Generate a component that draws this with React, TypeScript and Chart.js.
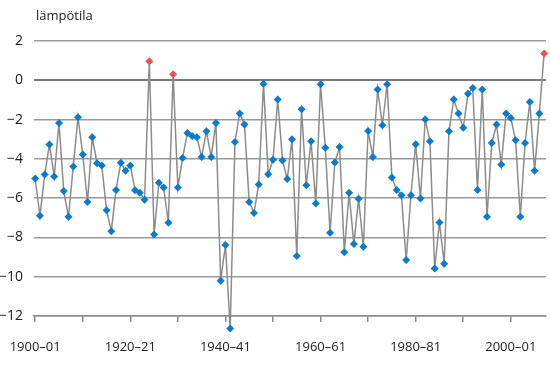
import React, { useEffect, useRef } from 'react';
import { Chart, registerables } from 'chart.js';

Chart.register(...registerables);

const yAxisTitle = 'lämpötila';
const firstSeason = 1900;
const tickYears = [0, 10, 20, 30, 40, 50, 60, 70, 80, 90, 100];
const tickLabels: Record<number, string> = {
  0: '1900–01',
  20: '1920–21',
  40: '1940–41',
  60: '1960–61',
  80: '1980–81',
  100: '2000–01',
};
const yTicks = [-12, -10, -8, -6, -4, -2, 0, 2];
const temperatures = [
  -5.0, -6.9, -4.8, -3.27, -4.9, -2.17, -5.64, -6.95, -4.39, -1.88,
  -3.78, -6.19, -2.9, -4.22, -4.34, -6.61, -7.68, -5.58, -4.2, -4.6,
  -4.34, -5.6, -5.73, -6.08, 0.97, -7.85, -5.22, -5.46, -7.25, 0.31,
  -5.46, -3.95, -2.68, -2.83, -2.9, -3.9, -2.6, -3.9, -2.17, -10.2,
  -8.39, -12.63, -3.14, -1.69, -2.25, -6.19, -6.75, -5.3, -0.17, -4.78,
  -4.05, -0.98, -4.08, -5.03, -3.0, -8.95, -1.47, -5.34, -3.1, -6.27,
  -0.2, -3.44, -7.76, -4.19, -3.39, -8.75, -5.73, -8.34, -6.03, -8.47,
  -2.58, -3.9, -0.47, -2.29, -0.2, -4.95, -5.59, -5.85, -9.15, -5.85,
  -3.25, -6.02, -2.0, -3.1, -9.58, -7.24, -9.34, -2.59, -0.98, -1.69,
  -2.42, -0.69, -0.39, -5.59, -0.47, -6.95, -3.19, -2.25, -4.29, -1.69,
  -1.92, -3.05, -6.95, -3.19, -1.1, -4.61, -1.69, 1.36,
];

const BLUE = '#0a7bcc';
const RED = '#f05252';
const FONT = "'Open Sans', sans-serif";

const titlePlugin = {
  id: 'axisTitleText',
  afterDatasetsDraw(chart: any) {
    // draw points that fall just outside the chart area (library skips them)
    const { ctx, chartArea } = chart;
    const full = { left: 0, top: 0, right: chart.width, bottom: chart.height };
    chart.getSortedVisibleDatasetMetas().forEach((meta: any) => {
      meta.data.forEach((el: any) => {
        if (el.y > chartArea.bottom + 0.5 || el.y < chartArea.top - 0.5) {
          el.draw(ctx, full);
        }
      });
    });
  },
  afterDraw(chart: any) {
    const { ctx, chartArea } = chart;
    ctx.save();
    ctx.font = `13px ${FONT}`;
    ctx.fillStyle = '#222';
    ctx.textAlign = 'left';
    ctx.textBaseline = 'middle';
    ctx.fillText(yAxisTitle, chartArea.left + 2, 16);
    ctx.restore();
  },
};

export default function App() {
  const canvasRef = useRef<HTMLCanvasElement | null>(null);

  useEffect(() => {
    if (!canvasRef.current) return;
    const points = temperatures.map((v, i) => ({ x: i, y: v }));
    const chart = new Chart(canvasRef.current, {
      type: 'line',
      data: {
        datasets: [
          {
            label: `${firstSeason}`,
            data: points,
            borderColor: '#8c8c8c',
            borderWidth: 1.5,
            pointStyle: 'rectRot',
            pointRadius: 4,
            pointBorderWidth: 0,
            pointBackgroundColor: (ctx: any) => (ctx.raw && ctx.raw.y > 0 ? RED : BLUE),
            pointBorderColor: (ctx: any) => (ctx.raw && ctx.raw.y > 0 ? RED : BLUE),
            tension: 0,
            clip: false as any,
          },
        ],
      },
      options: {
        animation: false,
        responsive: true,
        maintainAspectRatio: false,
        layout: { padding: { top: 41, right: 2, bottom: 0, left: 0 } },
        plugins: {
          legend: { display: false },
          tooltip: { enabled: false },
          title: { display: false },
        },
        scales: {
          x: {
            type: 'linear',
            min: -0.25,
            max: 107.4,
            afterBuildTicks: (axis: any) => {
              axis.ticks = tickYears.map((v) => ({ value: v }));
            },
            afterFit: (axis: any) => {
              axis.height = 51;
              axis.paddingLeft = 0;
              axis.paddingRight = 0;
            },
            ticks: {
              autoSkip: false,
              maxRotation: 0,
              padding: 17,
              color: '#222',
              font: { family: FONT, size: 13 },
              callback: (v: any) => tickLabels[Number(v)] ?? '',
            },
            grid: {
              display: true,
              drawOnChartArea: false,
              drawTicks: true,
              tickLength: 6,
              color: '#8a8a8a',
              lineWidth: 1.5,
            },
            border: { display: true, color: '#8a8a8a', width: 1.5 },
          },
          y: {
            min: -12,
            max: 2,
            afterBuildTicks: (axis: any) => {
              axis.ticks = yTicks.map((v) => ({ value: v }));
            },
            afterFit: (axis: any) => {
              axis.width = 34;
              axis.paddingTop = 0;
              axis.paddingBottom = 0;
            },
            ticks: {
              padding: 11,
              color: '#222',
              font: { family: FONT, size: 14 },
              callback: (v: any) => String(v).replace('-', '−'),
            },
            grid: {
              drawTicks: false,
              color: (ctx: any) => (ctx.tick && ctx.tick.value === 0 ? '#7a7a7a' : '#999'),
              lineWidth: (ctx: any) => (ctx.tick && ctx.tick.value === 0 ? 2 : 1.5),
            },
            border: { display: false },
          },
        },
      },
      plugins: [titlePlugin],
    });
    return () => chart.destroy();
  }, []);

  return (
    <div style={{ position: 'fixed', left: 0, top: 0, width: 550, height: 367, background: '#fff' }}>
      <canvas ref={canvasRef} />
    </div>
  );
}
